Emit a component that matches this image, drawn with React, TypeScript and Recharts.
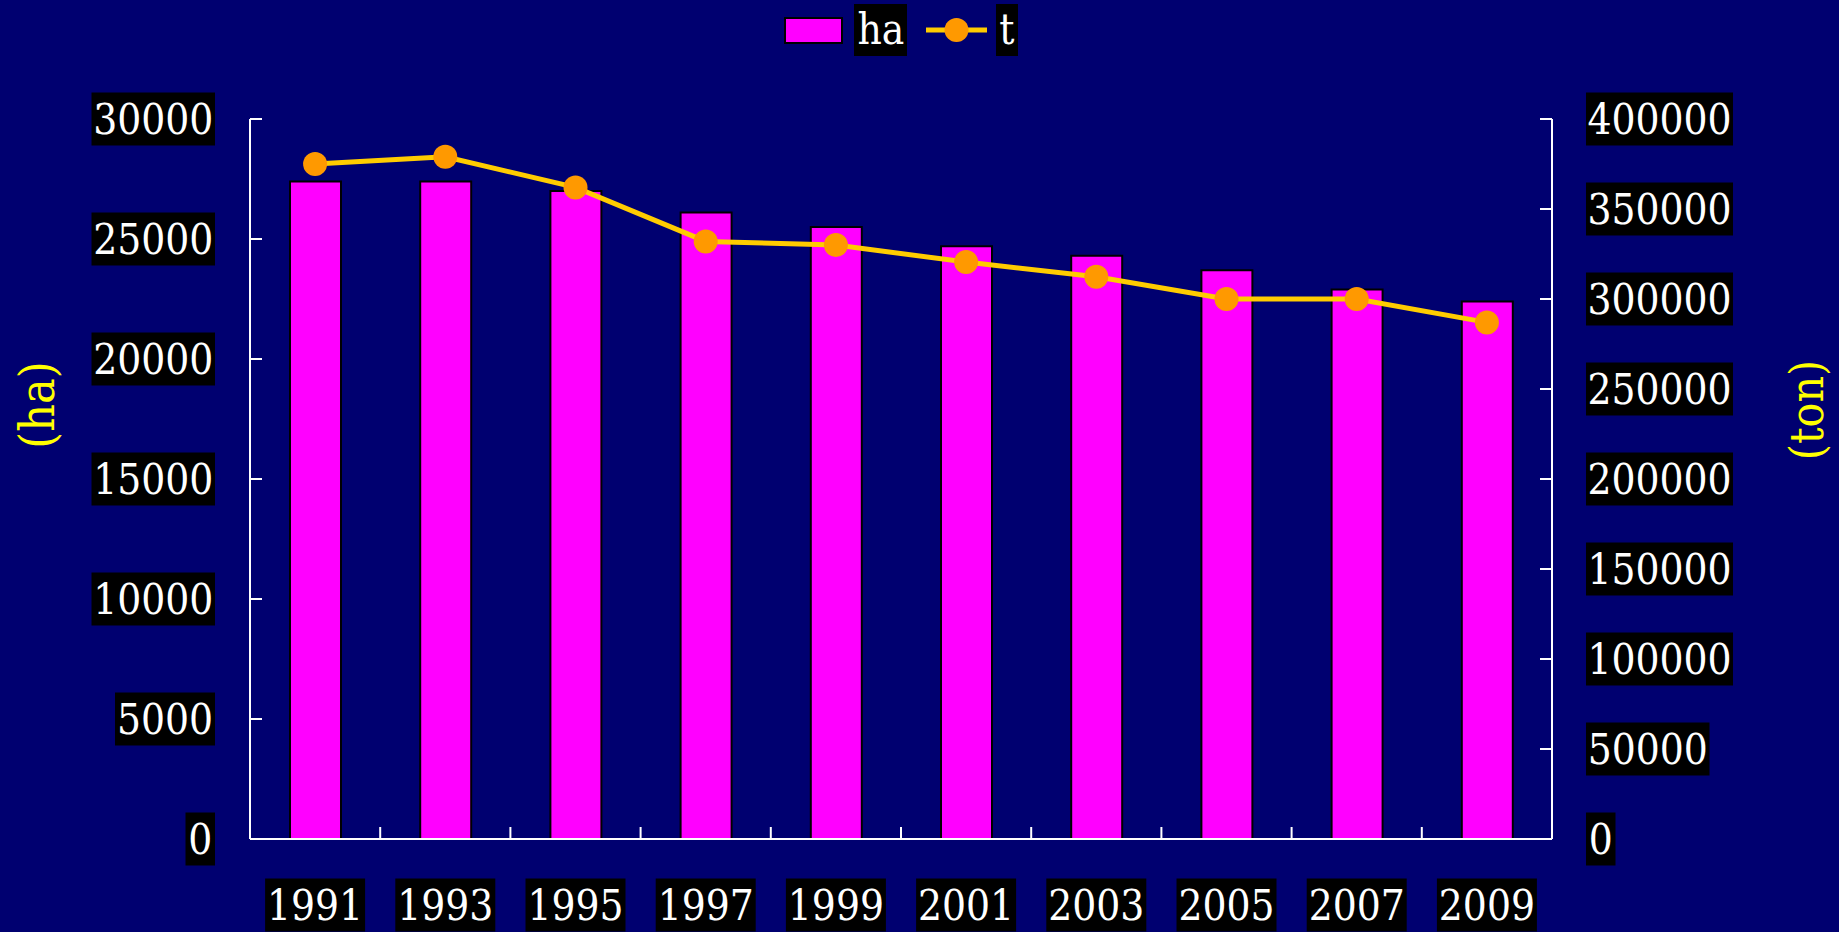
import React from 'react';
import { ComposedChart, Bar, Line, XAxis, YAxis, Legend } from 'recharts';

// planted area (ha) and production (t), every other year
const years = ['1991', '1993', '1995', '1997', '1999', '2001', '2003', '2005', '2007', '2009'];
const areaHa = [27400, 27400, 27000, 26100, 25500, 24700, 24300, 23700, 22900, 22400];
const outputTon = [375000, 379000, 362000, 332000, 330000, 320500, 312400, 300000, 300000, 287000];

const haTicks = [0, 5000, 10000, 15000, 20000, 25000, 30000];
const tonTicks = [0, 50000, 100000, 150000, 200000, 250000, 300000, 350000, 400000];

const data = years.map((year, i) => ({
  year,
  ha: areaHa[i],
  t: outputTon[i],
}));

const FONT = '"DejaVu Serif Condensed", "DejaVu Serif", serif';
const BG = '#000070';

const BoxText = ({ x, y, text, anchor }: { x: number; y: number; text: string; anchor: 'start' | 'middle' | 'end' }) => {
  const w = text.length * 23.5 + 6;
  const left = anchor === 'end' ? x - w + 3 : anchor === 'start' ? x - 3 : x - w / 2;
  return (
    <g>
      <rect x={left} y={y - 26.5} width={w} height={53} fill="#000" />
      <text
        x={left + w / 2}
        y={y}
        dy="0.36em"
        textAnchor="middle"
        fill="#fff"
        fontSize={42}
        fontFamily={FONT}
        style={{ fontStretch: 'condensed' }}
      >
        {text}
      </text>
    </g>
  );
};

const LeftTick = (props: any) => <BoxText x={props.x} y={props.y} text={String(props.payload.value)} anchor="end" />;
const RightTick = (props: any) => <BoxText x={props.x} y={props.y} text={String(props.payload.value)} anchor="start" />;

// year label, plus the short inward mark on the boundary to the next category
const YearTick = (props: any) => {
  const count = props.visibleTicksCount || years.length;
  const band = (props.width || 1302) / count;
  const edgeX = props.x + band / 2;
  return (
    <g>
      {props.index < count - 1 && (
        <line x1={edgeX} y1={props.y} x2={edgeX} y2={props.y - 12} stroke="#fff" strokeWidth={2} />
      )}
      <BoxText x={props.x} y={props.y + 66} text={String(props.payload.value)} anchor="middle" />
    </g>
  );
};

const axisTitle = (text: string, dx: number, dy: number, size: number) => (props: any) => {
  const vb = props.viewBox;
  const x = vb.x + dx;
  const y = vb.y + vb.height / 2 + dy;
  return (
    <text
      x={x}
      y={y}
      dy="0.36em"
      transform={`rotate(-90 ${x} ${y})`}
      textAnchor="middle"
      fill="#FFFF00"
      fontSize={size}
      fontFamily={FONT}
      style={{ fontStretch: 'condensed' }}
    >
      {text}
    </text>
  );
};

const LegendContent = () => (
  <div
    style={{
      display: 'flex',
      alignItems: 'center',
      justifyContent: 'center',
      height: 60,
      fontFamily: FONT,
      fontStretch: 'condensed',
      fontSize: 42,
      color: '#fff',
    }}
  >
    <span style={{ width: 55, height: 23, background: '#FF00FF', border: '2px solid #000' }} />
    <span style={{ marginLeft: 11, background: '#000', padding: '0 3px', height: 52, lineHeight: '52px' }}>ha</span>
    <svg width={61} height={26} style={{ marginLeft: 19 }}>
      <line x1={0} y1={13} x2={61} y2={13} stroke="#FFCC00" strokeWidth={5} />
      <circle cx={30.5} cy={13} r={12} fill="#FF9900" />
    </svg>
    <span style={{ marginLeft: 9, background: '#000', padding: '0 3px', height: 52, lineHeight: '52px' }}>t</span>
  </div>
);

export default function App() {
  return (
    <div style={{ position: 'absolute', left: 0, top: 0, width: 1839, height: 932, background: BG }}>
      <ComposedChart width={1839} height={932} data={data} margin={{ top: 59, right: 0, bottom: 0, left: 0 }}>
        <Legend
          verticalAlign="top"
          content={<LegendContent />}
          wrapperStyle={{ top: 0, left: 250, width: 1302, height: 60 }}
        />
        <XAxis
          dataKey="year"
          height={93}
          interval={0}
          axisLine={{ stroke: '#fff', strokeWidth: 2 }}
          tickLine={false}
          tickSize={0}
          tickMargin={0}
          tick={<YearTick />}
        />
        <YAxis
          yAxisId="left"
          width={250}
          domain={[0, 30000]}
          ticks={haTicks}
          interval={0}
          axisLine={{ stroke: '#fff', strokeWidth: 2 }}
          tickLine={{ stroke: '#fff', strokeWidth: 2 }}
          tickSize={-12}
          tickMargin={50}
          tick={<LeftTick />}
          label={{ content: axisTitle('(ha)', 36.5, -74, 48) }}
        />
        <YAxis
          yAxisId="right"
          orientation="right"
          width={287}
          domain={[0, 400000]}
          ticks={tonTicks}
          interval={0}
          axisLine={{ stroke: '#fff', strokeWidth: 2 }}
          tickLine={{ stroke: '#fff', strokeWidth: 2 }}
          tickSize={-12}
          tickMargin={49}
          tick={<RightTick />}
          label={{ content: axisTitle('(ton)', 254.5, -69, 46) }}
        />
        <Bar
          yAxisId="left"
          dataKey="ha"
          barSize={51}
          fill="#FF00FF"
          stroke="#000"
          strokeWidth={2}
          isAnimationActive={false}
        />
        <Line
          yAxisId="right"
          dataKey="t"
          type="linear"
          stroke="#FFCC00"
          strokeWidth={5}
          dot={{ r: 12, fill: '#FF9900', stroke: 'none', strokeWidth: 0 }}
          activeDot={false}
          isAnimationActive={false}
        />
      </ComposedChart>
    </div>
  );
}
